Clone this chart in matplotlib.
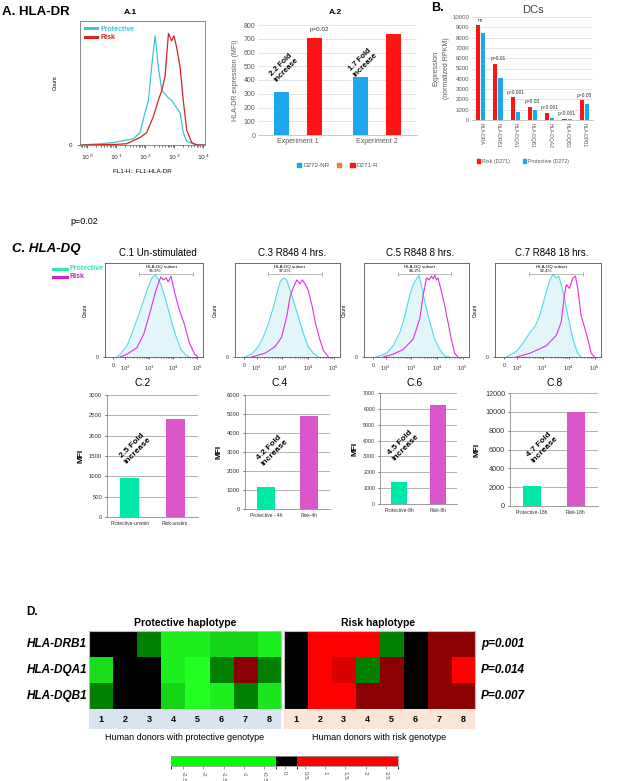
import numpy as np
import matplotlib
matplotlib.use("Agg")
import matplotlib.pyplot as plt
from matplotlib.colors import LinearSegmentedColormap, ListedColormap, BoundaryNorm
from matplotlib.cm import ScalarMappable

plt.rcParams['font.family'] = ['Liberation Sans', 'DejaVu Sans']

# ---------------------------------------------------------
# Data
# ---------------------------------------------------------
# A.1 flow histogram (log10 fluorescence, % of max count)
a1_prot_log = [-0.2, 0.45, 0.91, 1.37, 1.60, 1.83, 2.0, 2.12, 2.23, 2.35, 2.46, 2.58, 2.81, 2.92, 3.09, 3.21, 3.32, 3.44, 3.7, 4.05]
a1_prot_cnt = [0, 1, 2, 4, 5, 10, 26, 36, 63, 88, 63, 44, 38, 36, 30, 26, 10, 3, 0.5, 0]
a1_risk_log = [-0.2, 1.0, 1.37, 1.83, 2.06, 2.29, 2.46, 2.58, 2.69, 2.81, 2.92, 3.0, 3.09, 3.21, 3.32, 3.44, 3.61, 3.79, 4.05]
a1_risk_cnt = [0, 0.5, 1, 6, 10, 23, 36, 44, 55, 90, 84, 88, 79, 63, 36, 12, 2, 0, 0]

# A.2 MFI
a2_groups = ["Experiment 1", "Experiment 2"]
a2_nr = [315, 422]
a2_r = [705, 735]
a2_fold = ["2.2 Fold\nincrease", "1.7 Fold\nincrease"]

# B. DCs RNA-seq
b_genes = ["HLA-DRA", "HLA-DRB1", "HLA-DQA1", "HLA-DQB1", "HLA-DQA2", "HLA-DQB2", "HLA-DPB1"]
b_risk = [9200, 5450, 2200, 1300, 700, 100, 1900]
b_prot = [8450, 4100, 800, 1000, 200, 100, 1550]
b_pvals = ["ns", "p=0.01", "p<0.001", "p=0.03", "p<0.001", "p<0.001", "p=0.05"]

# C. HLA-DQ histograms (log10 fluorescence, % of max count)
c1_prot = ([1.65, 1.79, 2.07, 2.35, 2.63, 2.92, 3.13, 3.27, 3.48, 3.7, 3.91, 4.12, 4.33, 4.54, 4.68],
           [0, 3, 12, 30, 50, 72, 85, 87, 78, 60, 40, 22, 8, 2, 0])
c1_risk = ([1.79, 2.07, 2.49, 2.78, 3.06, 3.27, 3.48, 3.6, 3.7, 3.8, 3.91, 4.05, 4.26, 4.47, 4.68, 4.9, 5.04],
           [0, 3, 10, 25, 50, 70, 85, 82, 84, 80, 86, 70, 50, 35, 15, 3, 0])
c3_prot = ([1.54, 1.8, 2.06, 2.25, 2.45, 2.65, 2.78, 2.91, 3.04, 3.17, 3.3, 3.43, 3.62, 3.82, 4.01, 4.21, 4.41],
           [0, 3, 11, 21, 35, 53, 67, 80, 84, 82, 71, 60, 43, 25, 11, 4, 0])
c3_risk = ([1.8, 2.32, 2.71, 2.97, 3.17, 3.3, 3.43, 3.56, 3.69, 3.78, 3.88, 4.01, 4.17, 4.3, 4.47, 4.6, 4.8],
           [0, 4, 11, 21, 43, 64, 74, 82, 78, 82, 78, 71, 53, 35, 18, 7, 0])
c5_prot = ([1.64, 2.03, 2.29, 2.55, 2.75, 2.94, 3.07, 3.2, 3.29, 3.39, 3.52, 3.72, 3.91, 4.11, 4.3, 4.5],
           [0, 4, 12, 26, 44, 66, 77, 83, 87, 77, 59, 37, 19, 8, 1, 0])
c5_risk = ([1.9, 2.29, 2.68, 3.07, 3.33, 3.46, 3.59, 3.7, 3.78, 3.85, 3.91, 3.98, 4.04, 4.17, 4.3, 4.43, 4.56, 4.69, 4.82],
           [0, 3, 8, 19, 41, 66, 84, 82, 86, 83, 87, 82, 84, 70, 55, 37, 19, 4, 0])
c7_prot = ([1.6, 1.98, 2.24, 2.5, 2.69, 2.88, 3.07, 3.26, 3.39, 3.52, 3.62, 3.78, 3.97, 4.16, 4.35, 4.48],
           [0, 6, 15, 26, 32, 44, 63, 81, 88, 84, 86, 70, 44, 19, 4, 0])
c7_risk = ([1.98, 2.5, 3.14, 3.52, 3.71, 3.84, 3.91, 4.03, 4.16, 4.26, 4.35, 4.48, 4.61, 4.74, 4.87, 5.0],
           [0, 4, 12, 23, 37, 66, 77, 73, 84, 86, 73, 44, 32, 19, 4, 0])
c_pct = ["95.9%", "97.2%", "96.2%", "92.4%"]
c_gates = [(2.56, 4.83), (2.45, 4.53), (2.49, 4.56), (2.47, 4.57)]
c_titles = ["C.1 Un-stimulated", "C.3 R848 4 hrs.", "C.5 R848 8 hrs.", "C.7 R848 18 hrs."]

# C. MFI bars
c2_labels = ["Protective-unstim", "Risk-unstim"]
c2_vals = [950, 2400]
c4_labels = ["Protective - 4h", "Risk-4h"]
c4_vals = [1150, 4900]
c6_labels = ["Protective-8h", "Risk-8h"]
c6_vals = [1400, 6250]
c8_labels = ["Protective-18h", "Risk-18h"]
c8_vals = [2150, 10000]
c_folds = ["2.5 Fold\nincrease", "4.2 Fold\nincrease", "4.5 Fold\nincrease", "4.7 Fold\nincrease"]

# D. heatmap
d_genes = ["HLA-DRB1", "HLA-DQA1", "HLA-DQB1"]
d_pvals = ["p=0.001", "P=0.014", "P=0.007"]
d_donors = [1, 2, 3, 4, 5, 6, 7, 8]
d_prot = [[0, 0, -1, -2.3, -2.3, -2.0, -2.0, -2.3],
          [-2.1, 0, 0, -2.3, -2.5, -1, 1, -1],
          [-1, 0, 0, -2.0, -2.5, -2.3, -1, -2.2]]
d_risk = [[0, 2.5, 2.5, 2.5, -1, 0, 1, 1],
          [0, 2.5, 2.0, -1, 1, 0, 1, 2.5],
          [0, 2.5, 2.5, 1, 1, 0, 1, 1]]
cb_ticks = [-2.5, -2, -1.5, -1, -0.5, 0, 0.5, 1, 1.5, 2, 2.5]
cb_bounds = [-2.8, -0.22, 0.3, 2.8]

# colours
CYAN_A, RED_A = '#3cc6d2', '#d42424'
BLUE_X, RED_X, ORANGE_X = '#1ea7ec', '#ff1414', '#f07c30'
CYAN_C, MAG_C = '#4ddbeb', '#e030e0'
GREEN_BAR, MAG_BAR = '#00e8a8', '#d957c9'
GRAY_TXT = '#595959'

# ---------------------------------------------------------
# Figure helpers (pixel layout)
# ---------------------------------------------------------
W, H = 617, 781
fig = plt.figure(figsize=(W / 100, H / 100), dpi=100)


def box(x0, y0, x1, y1):
    return fig.add_axes([x0 / W, 1 - y1 / H, (x1 - x0) / W, (y1 - y0) / H])


def label(x, y, s, **kw):
    kw.setdefault('ha', 'left')
    kw.setdefault('va', 'center')
    fig.text(x / W, 1 - y / H, s, **kw)


def excel_style(ax, fs=4.5):
    for s in ['top', 'right', 'left']:
        ax.spines[s].set_visible(False)
    ax.spines['bottom'].set_color('#bfbfbf')
    ax.spines['bottom'].set_linewidth(0.6)
    ax.yaxis.grid(True, color='#d9d9d9', lw=0.5)
    ax.set_axisbelow(True)
    ax.tick_params(axis='both', length=0, labelsize=fs, colors=GRAY_TXT, pad=2)


# ---------------------------------------------------------
# A. HLA-DR
# ---------------------------------------------------------
label(2, 12, "A. HLA-DR", fontsize=9.5, fontweight='bold')
label(130, 13, "A.1", fontsize=6, fontweight='bold', ha='center')

ax = box(80, 21, 205, 145)
ax.plot(10 ** np.array(a1_prot_log), a1_prot_cnt, color=CYAN_A, lw=0.9, label='Protective')
ax.plot(10 ** np.array(a1_risk_log), a1_risk_cnt, color=RED_A, lw=0.9, label='Risk')
ax.set_xscale('log')
ax.set_xlim(10 ** -0.24, 10 ** 4.07)
ax.set_ylim(0, 100)
ax.set_xticks([1, 10, 100, 1000, 10000])
ax.set_xticklabels(['$10^0$', '$10^1$', '$10^2$', '$10^3$', '$10^4$'])
ax.set_yticks([0])
ax.tick_params(labelsize=4.5, length=2, width=0.5, colors='#333333')
ax.tick_params(which='minor', length=1.2, width=0.4)
for s in ax.spines.values():
    s.set_color('#777777')
    s.set_linewidth(0.6)
ax.set_ylabel("Count", fontsize=4, labelpad=8)
ax.set_xlabel("FL1-H:: FL1-HLA-DR", fontsize=4.5, labelpad=5)
ax.legend(loc='upper left', frameon=False, labelcolor='linecolor', handlelength=1.8,
          prop={'weight': 'bold', 'size': 5}, borderaxespad=0.3, handletextpad=0.4,
          labelspacing=0.2)
for ln in ax.get_legend().get_lines():
    ln.set_linewidth(2.2)

label(70, 222, "p=0.02", fontsize=6.5)

# A.2
label(335, 13, "A.2", fontsize=6, fontweight='bold', ha='center')
ax = box(258, 25, 417, 135)
xa = np.arange(len(a2_groups))
ax.bar(xa - 0.21, a2_nr, width=0.19, color=BLUE_X)
ax.bar(xa + 0.21, a2_r, width=0.19, color=RED_X)
ax.set_xlim(-0.5, len(a2_groups) - 0.5)
ax.set_ylim(0, 800)
ax.set_yticks(np.arange(0, 801, 100))
ax.set_xticks(xa)
ax.set_xticklabels(a2_groups)
excel_style(ax, fs=5)
ax.set_ylabel("HLA-DR expression (MFI)", fontsize=5, color=GRAY_TXT, labelpad=3)
ax.text(-0.17, 495, a2_fold[0], rotation=45, fontsize=5.5, fontweight='bold',
        ha='center', va='center', linespacing=1.1)
ax.text(0.82, 530, a2_fold[1], rotation=45, fontsize=5.5, fontweight='bold',
        ha='center', va='center', linespacing=1.1)
ax.text(0.27, 770, "p=0.02", fontsize=4.5, ha='center', va='center', color='#333333')
hnd = [plt.Rectangle((0, 0), 1, 1, color=c) for c in (BLUE_X, ORANGE_X, RED_X)]
ax.legend(hnd, ["D272-NR", "", "D271-R"], loc='upper center', bbox_to_anchor=(0.5, -0.2),
          ncol=3, frameon=False, fontsize=4.5, handlelength=0.7, handleheight=0.7,
          columnspacing=1.2, handletextpad=0.3, labelcolor=GRAY_TXT)

# ---------------------------------------------------------
# B. DCs
# ---------------------------------------------------------
label(431, 8, "B.", fontsize=9, fontweight='bold')
label(533, 10, "DCs", fontsize=8, ha='center', color='#404040')
ax = box(472, 17, 593, 120)
xb = np.arange(len(b_genes))
ax.bar(xb - 0.15, b_risk, width=0.24, color=RED_X)
ax.bar(xb + 0.15, b_prot, width=0.24, color=BLUE_X)
for i, p in enumerate(b_pvals):
    ax.text(xb[i], max(b_risk[i], b_prot[i]) + 250, p, fontsize=3.5, ha='center',
            va='bottom', color='#333333')
ax.set_xlim(-0.5, len(b_genes) - 0.5)
ax.set_ylim(0, 10000)
ax.set_yticks(np.arange(0, 10001, 1000))
ax.set_xticks(xb)
ax.set_xticklabels(b_genes, rotation=-90, ha='center', va='top')
excel_style(ax, fs=4.3)
ax.tick_params(axis='x', labelsize=3.6)
ax.set_ylabel("Expression\n(normalized RPKM)", fontsize=5, color=GRAY_TXT, labelpad=2,
              linespacing=1.6)
hnd = [plt.Rectangle((0, 0), 1, 1, color=c) for c in (RED_X, BLUE_X)]
ax.legend(hnd, ["Risk (D271)", "Protective (D272)"], loc='upper center',
          bbox_to_anchor=(0.42, -0.33), ncol=2, frameon=False, fontsize=3.8,
          handlelength=0.6, handleheight=0.6, columnspacing=2.5, handletextpad=0.4,
          labelcolor=GRAY_TXT)

# ---------------------------------------------------------
# C. HLA-DQ histograms
# ---------------------------------------------------------
label(12, 249, "C. HLA-DQ", fontsize=9.5, fontweight='bold', style='italic')
fig.add_artist(plt.Line2D([53 / W, 67 / W], [1 - 269 / H] * 2, color='#2de8b5', lw=2.2))
fig.add_artist(plt.Line2D([53 / W, 67 / W], [1 - 277 / H] * 2, color='#cc22cc', lw=2.2))
label(70, 268, "Protective", fontsize=5, fontweight='bold', color='#2de8b5')
label(70, 276, "Risk", fontsize=5, fontweight='bold', color='#cc22cc')

hist_boxes = [(105, 203), (235, 340), (364, 469), (495, 601)]
hist_prot = [c1_prot, c3_prot, c5_prot, c7_prot]
hist_risk = [c1_risk, c3_risk, c5_risk, c7_risk]
minor = [np.log10(m) + k for k in (2, 3, 4) for m in range(2, 10)]

for i, (x0, x1) in enumerate(hist_boxes):
    ax = box(x0, 263, x1, 357)
    px_, py_ = hist_prot[i]
    rx_, ry_ = hist_risk[i]
    ax.fill_between(px_, py_, color='#e2f6fa', lw=0)
    ax.plot(px_, py_, color=CYAN_C, lw=0.8)
    ax.plot(rx_, ry_, color=MAG_C, lw=0.8)
    ax.set_xlim(1.15, 5.25)
    ax.set_ylim(0, 100)
    ax.set_xticks([1.5, 2, 3, 4, 5])
    ax.set_xticklabels(['0', '$10^2$', '$10^3$', '$10^4$', '$10^5$'])
    ax.set_xticks(minor, minor=True)
    ax.set_yticks([0])
    ax.tick_params(labelsize=3.8, length=1.5, width=0.5, colors='#333333', pad=3)
    ax.tick_params(which='minor', length=1, width=0.4)
    for s in ax.spines.values():
        s.set_color('#555555')
        s.set_linewidth(0.6)
    ax.set_ylabel("Count", fontsize=3.5, labelpad=6)
    g0, g1 = c_gates[i]
    ax.plot([g0, g1], [88, 88], color='#888888', lw=0.4)
    ax.plot([g0, g0], [86, 90], color='#888888', lw=0.4)
    ax.plot([g1, g1], [86, 90], color='#888888', lw=0.4)
    ax.text((g0 + g1) / 2 - 0.2, 96, "HLA-DQ subset", fontsize=3.2, ha='center', va='center')
    ax.text(g0 + 0.4, 92, c_pct[i], fontsize=3.2, ha='left', va='center')
    label((x0 + x1) / 2 + 4, 253, c_titles[i], fontsize=7, ha='center')

# ---------------------------------------------------------
# C. MFI bars
# ---------------------------------------------------------
bar_specs = [
    ((107, 395, 198, 517), c2_labels, c2_vals, 3000, 500, (0.115, 1700), 4.2, "C.2", 143),
    ((245, 395, 330, 509), c4_labels, c4_vals, 6000, 1000, (0.135, 3100), 4.2, "C.4", 280),
    ((380, 393, 457, 504), c6_labels, c6_vals, 7000, 1000, (0.1, 3720), 3.8, "C.6", 415),
    ((510, 393, 598, 506), c8_labels, c8_vals, 12000, 2000, (0.23, 6260), 5.2, "C.8", 555),
]
for i, (bx, labs, vals, ymax, step, fxy, fs, ttl, tx) in enumerate(bar_specs):
    ax = box(*bx)
    xc = np.arange(len(labs))
    ax.bar(xc, vals, width=0.42, color=[GREEN_BAR, MAG_BAR])
    ax.set_xlim(-0.5, 1.5)
    ax.set_ylim(0, ymax)
    ax.set_yticks(np.arange(0, ymax + 1, step))
    ax.set_xticks(xc)
    ax.set_xticklabels(labs)
    ax.yaxis.grid(True, color='#a6a6a6', lw=0.6)
    ax.set_axisbelow(True)
    for s in ['top', 'right']:
        ax.spines[s].set_visible(False)
    for s in ['left', 'bottom']:
        ax.spines[s].set_color('#8c8c8c')
        ax.spines[s].set_linewidth(0.6)
    ax.tick_params(axis='y', labelsize=fs, length=1.5, width=0.5, colors='#333333', pad=2)
    ax.tick_params(axis='x', labelsize=3.6, length=0, colors='#333333', pad=3)
    ax.set_ylabel("MFI", fontsize=6, fontweight='bold', labelpad=3)
    ax.text(fxy[0], fxy[1], c_folds[i], rotation=45, fontsize=6, fontweight='bold',
            ha='center', va='center', linespacing=1.1)
    label(tx, 383, ttl, fontsize=7.5, ha='center')

# ---------------------------------------------------------
# D. heatmap
# ---------------------------------------------------------
label(26, 612, "D.", fontsize=8.5, fontweight='bold')
label(185, 623, "Protective haplotype", fontsize=7.5, fontweight='bold', ha='center')
label(378, 623, "Risk haplotype", fontsize=7.5, fontweight='bold', ha='center')

hm_cmap = LinearSegmentedColormap.from_list(
    'gbr', [(0, '#22ff22'), (0.3, '#008000'), (0.5, '#000000'), (0.7, '#8b0000'), (1, '#ff0000')])

for (x0, x1), vals, strip_col, caption in [((89, 281), d_prot, '#dae3f0', "Human donors with protective genotype"),
                                           ((284, 475), d_risk, '#fbe5d6', "Human donors with risk genotype")]:
    ax = box(x0, 631, x1, 709)
    ax.imshow(np.array(vals), cmap=hm_cmap, vmin=-2.5, vmax=2.5, aspect='auto',
              interpolation='nearest')
    ax.set_xticks([])
    ax.set_yticks([])
    for s in ax.spines.values():
        s.set_color('#bbbbbb')
        s.set_linewidth(0.8)
    sx = box(x0, 709, x1, 729)
    sx.set_facecolor(strip_col)
    sx.set_xlim(-0.5, len(d_donors) - 0.5)
    sx.set_ylim(0, 1)
    for j, d in enumerate(d_donors):
        sx.text(j, 0.5, str(d), fontsize=6.5, fontweight='bold', ha='center', va='center')
    sx.axis('off')
    sx.add_patch(plt.Rectangle((-0.5, 0), len(d_donors), 1, color=strip_col, zorder=0))
    label((x0 + x1) / 2, 737, caption, fontsize=6.5, ha='center')

for k, g in enumerate(d_genes):
    label(87, 644 + 26 * k, g, fontsize=8.5, fontweight='bold', style='italic', ha='right')
    label(481, 644 + 26 * k, d_pvals[k], fontsize=8.5, fontweight='bold', style='italic')

cax = box(171, 756, 398, 766)
cb_norm = BoundaryNorm(cb_bounds, 3)
cb = fig.colorbar(ScalarMappable(norm=cb_norm, cmap=ListedColormap(['#00ff00', '#000000', '#ff0000'])),
                  cax=cax, orientation='horizontal', spacing='proportional', ticks=cb_ticks)
cb.set_ticklabels([str(t) if t != int(t) else str(int(t)) for t in cb_ticks])
cb.ax.tick_params(labelsize=4.5, length=2, width=0.4, colors='#555555', rotation=-90, pad=1.5)
cb.outline.set_edgecolor('#999999')
cb.outline.set_linewidth(0.6)

fig.savefig("out.png", dpi=100)
